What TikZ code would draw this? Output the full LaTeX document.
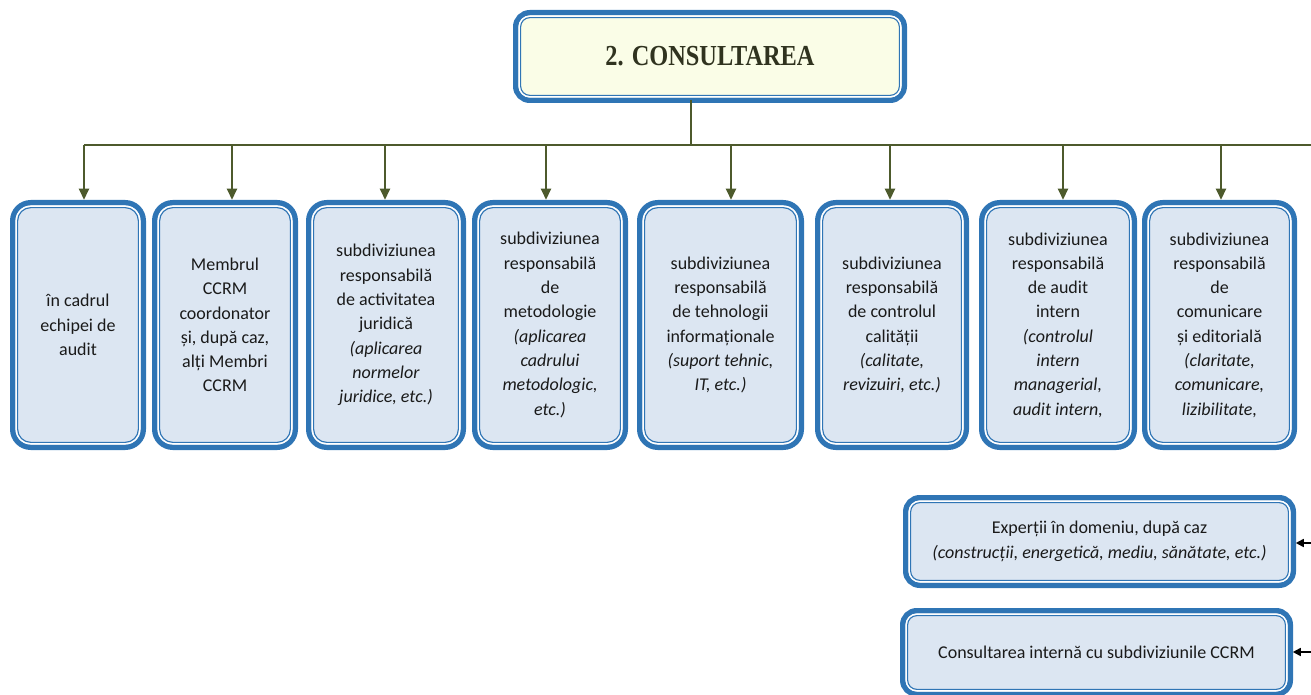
\documentclass[tikz,border=0pt]{standalone}
\usepackage{fontspec}
\setmainfont{Carlito}
\newfontfamily\titlefont{Liberation Serif}
\usetikzlibrary{arrows.meta}

\definecolor{bordblue}{HTML}{2F75B5}
\definecolor{boxfill}{HTML}{DCE6F2}
\definecolor{titlefill}{HTML}{FAFDE7}
\definecolor{olive}{HTML}{4D5A2C}
\definecolor{txt}{HTML}{1A1A1A}
\definecolor{titletxt}{HTML}{30331F}

\tikzset{
  unitbox/.style={rectangle, draw=bordblue, line width=5.5pt, outer sep=0pt,
    inner sep=2pt, fill=boxfill, text=txt, align=center,
    font=\fontsize{18}{24.3}\selectfont},
  tallbox/.style={unitbox, rounded corners=18pt, minimum height=244.5pt},
  widebox/.style={unitbox, rounded corners=14pt},
  bus/.style={draw=olive, line width=2pt},
  busarrow/.style={bus, -{Triangle[width=10pt,length=11pt]}, shorten >=3pt},
  sidearrow/.style={draw=black, line width=1.6pt, -{Triangle[width=8pt,length=8pt]}, shorten >=2.5pt},
}

% double frame inside a box: a white gap and a thin blue line
\newcommand\frameinside[2]{%
  \draw[white, line width=1.6pt, rounded corners=#2pt-3.5pt]
    ([shift={(3.5pt,-3.5pt)}]#1.north west) rectangle ([shift={(-3.5pt,3.5pt)}]#1.south east);
  \draw[bordblue, line width=1.1pt, rounded corners=#2pt-4.9pt]
    ([shift={(4.9pt,-4.9pt)}]#1.north west) rectangle ([shift={(-4.9pt,4.9pt)}]#1.south east);
}

\begin{document}
\begin{tikzpicture}[x=1pt, y=-1pt]
\useasboundingbox (0,0) rectangle (1311,695);
\clip (0,0) rectangle (1311,695);

% title
\node[widebox, fill=titlefill, text=titletxt, minimum width=388.5pt, minimum height=87.5pt]
  (title) at (710,56.5) {\titlefont\fontsize{29}{30}\selectfont\bfseries\scalebox{0.84}[1]{2. CONSULTAREA}};
\frameinside{title}{14}

% top row of units
\node[tallbox, minimum width=130.5pt] (b1) at (78,325)
  {în cadrul\\echipei de\\audit};
\node[tallbox, minimum width=140.5pt] (b2) at (225,325)
  {Membrul\\CCRM\\coordonator\\și, după caz,\\alți Membri\\CCRM};
\node[tallbox, minimum width=154.5pt] (b3) at (386,325)
  {subdiviziunea\\responsabilă\\de activitatea\\juridică\\\textit{(aplicarea}\\\textit{normelor}\\\textit{juridice, etc.)}};
\node[tallbox, minimum width=150.5pt] (b4) at (550,325)
  {subdiviziunea\\responsabilă\\de\\metodologie\\\textit{(aplicarea}\\\textit{cadrului}\\\textit{metodologic,}\\\textit{etc.)}};
\node[tallbox, minimum width=161.5pt] (b5) at (720.5,325)
  {subdiviziunea\\responsabilă\\de tehnologii\\informaționale\\\textit{(suport tehnic,}\\\textit{IT, etc.)}};
\node[tallbox, minimum width=148.5pt] (b6) at (892,325)
  {subdiviziunea\\responsabilă\\de controlul\\calității\\\textit{(calitate,}\\\textit{revizuiri, etc.)}};
\node[tallbox, minimum width=152.5pt] (b7) at (1058,325)
  {subdiviziunea\\responsabilă\\de audit\\intern\\\textit{(controlul}\\\textit{intern}\\\textit{managerial,}\\\textit{audit intern,}};
\node[tallbox, minimum width=149.5pt] (b8) at (1219.5,325)
  {subdiviziunea\\responsabilă\\de\\comunicare\\și editorială\\\textit{(claritate,}\\\textit{comunicare,}\\\textit{lizibilitate,}};

\foreach \n in {b1,b2,b3,b4,b5,b6,b7,b8} {\frameinside{\n}{18}}

% lower boxes
\node[widebox, minimum width=387.5pt, minimum height=87.5pt] (exp) at (1099.5,541.5)
  {Experții în domeniu, după caz\\\textit{(construcții, energetică, mediu, sănătate, etc.)}};
\node[widebox, minimum width=387.5pt, minimum height=83.5pt] (int) at (1096.5,652.5)
  {Consultarea internă cu subdiviziunile CCRM};
\frameinside{exp}{14}
\frameinside{int}{14}

% distribution bus
\coordinate (t) at (691,145);
\coordinate (busL) at (84,145);
\coordinate (busR) at (1311,145);
\draw[bus] (t |- title.south) -- (t);
\draw[bus] (busL) -- (busR);

\foreach \x/\b in {84/b1, 232/b2, 385/b3, 546/b4, 731/b5, 890/b6, 1063/b7, 1221/b8} {
  \coordinate (d-\b) at (\x,145);
  \draw[busarrow] (d-\b) -- (d-\b |- \b.north);
}

% incoming arrows on the right
\coordinate (inE) at (1311,543);
\coordinate (inI) at (1311,652);
\draw[sidearrow] (inE) -- (inE -| exp.east);
\draw[sidearrow] (inI) -- (inI -| int.east);
\end{tikzpicture}
\end{document}
